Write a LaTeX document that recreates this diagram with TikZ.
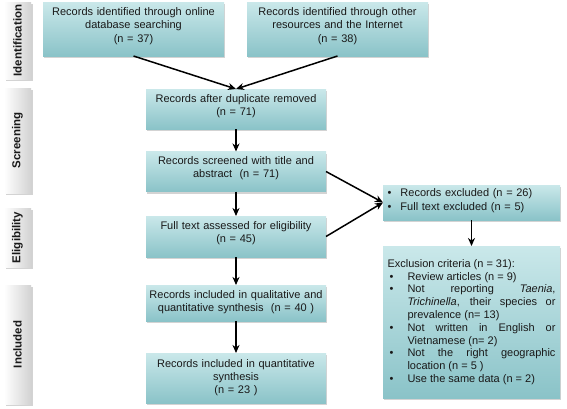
\documentclass[tikz,border=0pt]{standalone}
\usepackage{fontspec}
\setmainfont{Liberation Sans}
\usetikzlibrary{arrows.meta,shadows,calc}
\definecolor{boxtop}{RGB}{202,232,234}
\definecolor{boxbot}{RGB}{138,195,200}
\definecolor{txt}{RGB}{25,25,25}
\tikzset{
  flowbox/.style={rectangle, top color=boxtop, bottom color=boxbot, inner sep=0pt, outer sep=0pt,
    drop shadow={opacity=0.35, shadow xshift=1pt, shadow yshift=-2pt},
    font=\fontsize{11}{13.3}\selectfont, text=txt, align=center},
  mainbox/.style={flowbox, text width=175pt},
  phasebar/.style={rectangle, left color=white, right color=gray!35, inner sep=0pt, outer sep=0pt,
    drop shadow={opacity=0.35, shadow xshift=1.5pt, shadow yshift=-1.5pt},
    font=\fontsize{11.5}{13}\selectfont\bfseries, text=txt, rotate=90},
  flowarrow/.style={line width=1.5pt, -{Stealth[length=8pt,width=7pt,inset=2.5pt]}, black}
}
\newcommand{\bulletitem}{\par\hangindent=20pt\hangafter=1\noindent\makebox[20pt][l]{\hspace{2pt}•}}
\newcommand{\lowstrut}[1][-8.5pt]{\rule[#1]{0pt}{1pt}}
\begin{document}
\begin{tikzpicture}[x=1pt,y=-1pt]
\useasboundingbox (0,0) rectangle (567,408);
% phase bars
\node[phasebar, minimum width=77pt, minimum height=27pt] (pid) at (17.5,40.5) {Identification};
\node[phasebar, minimum width=105pt, minimum height=27pt] (psc) at (17.5,140.5) {Screening};
\node[phasebar, minimum width=59pt, minimum height=27pt] (pel) at (17.5,237.5) {Eligibility};
\node[phasebar, minimum width=119pt, minimum height=27pt] (pin) at (17.5,344.5) {Included};
% boxes
\node[mainbox, minimum width=181pt, minimum height=54pt] (A) at (133.5,29)
  {Records identified through online\\database searching\\(n = 37)\lowstrut};
\node[mainbox, minimum width=181pt, minimum height=54pt] (B) at (337.5,29)
  {Records identified through other\\resources and the Internet\\(n = 38)\lowstrut};
\node[mainbox, minimum width=180pt, minimum height=40pt] (C) at (236,109)
  {Records after duplicate removed\\(n = 71)\lowstrut};
\node[mainbox, minimum width=180pt, minimum height=40pt] (D) at (236,171.5)
  {Records screened with title and\\abstract~~(n = 71)\lowstrut};
\node[mainbox, minimum width=180pt, minimum height=41pt] (E) at (236,236.5)
  {Full text assessed for eligibility\\(n = 45)\lowstrut};
\node[mainbox, minimum width=180pt, minimum height=36pt] (F) at (236,303)
  {Records included in qualitative and\\quantitative synthesis~~(n = 40 )\lowstrut[-4pt]};
\node[mainbox, minimum width=180pt, minimum height=50pt] (G) at (236,378)
  {Records included in quantitative\\synthesis\\(n = 23 )\lowstrut[-3pt]};
\node[flowbox, minimum width=177pt, minimum height=35pt, text width=170pt, align=left] (H) at (471.5,202.5)
  {\makebox[14pt][l]{\hspace{1pt}•}Records excluded (n = 26)\\\makebox[14pt][l]{\hspace{1pt}•}Full text excluded (n = 5)\rule[-6pt]{0pt}{1pt}};
\node[flowbox, minimum width=177pt, minimum height=152pt, text width=168pt, align=justify,
      font=\fontsize{11}{12.8}\selectfont] (I) at (471.5,322)
  {\tolerance=10000\hyphenpenalty=10000\parindent=0pt
   Exclusion criteria (n = 31):%
   \bulletitem Review articles (n = 9)%
   \bulletitem Not reporting \textit{Taenia},\linebreak
     \textit{Trichinella}, their species or\linebreak prevalence (n= 13)%
   \bulletitem Not written in English or\linebreak Vietnamese (n= 2)%
   \bulletitem Not the right geographic\linebreak location (n = 5 )%
   \bulletitem Use the same data (n = 2)\par};
% arrows
\draw[flowarrow] (A.south) -- (C.north);
\draw[flowarrow] (B.south) -- (C.north);
\draw[flowarrow] (C.south) -- (D.north);
\draw[flowarrow] (D.south) -- (E.north);
\draw[flowarrow] (E.south) -- (F.north);
\draw[flowarrow] (F.south) -- (G.north);
\draw[flowarrow] (D.east) -- (H.west);
\draw[flowarrow] (E.east) -- (H.west);
\draw[flowarrow] (H.south) -- (I.north);
\end{tikzpicture}
\end{document}
